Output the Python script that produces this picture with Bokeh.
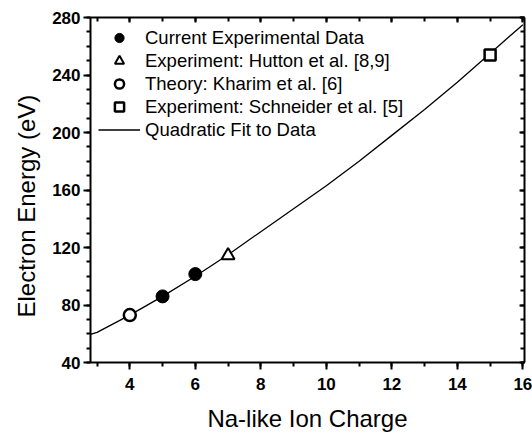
from bokeh.plotting import figure
from bokeh.models import (LinearAxis, SingleIntervalTicker, Legend, LegendItem,
                          Range1d, Title)
from bokeh.embed import file_html
from bokeh.resources import INLINE

# ---- data ----
fit_x = [2.8, 3, 4, 5, 6, 7, 8, 9, 10, 11, 12, 13, 14, 15, 16]
fit_y = [59.5, 61, 73, 86, 100, 115, 131, 147, 163, 180, 198, 216, 235, 255, 275]

current_x = [5, 6]
current_y = [86, 101.5]
hutton_x = [7]
hutton_y = [114.5]
kharim_x = [4]
kharim_y = [73]
schneider_x = [15]
schneider_y = [254]

x_label = "Na-like Ion Charge"
y_label = "Electron Energy (eV)"
legend_labels = ["Current Experimental Data",
                 "Experiment: Hutton et al. [8,9]",
                 "Theory: Kharim et al. [6]",
                 "Experiment: Schneider et al. [5]",
                 "Quadratic Fit to Data"]

FONT = "Liberation Sans"

p = figure(width=532, height=434, output_backend="svg", toolbar_location=None,
           x_range=Range1d(2.8, 16.05), y_range=Range1d(40, 280),
           min_border_left=90, min_border_right=8, min_border_top=17,
           min_border_bottom=68, x_axis_label=x_label)
p.grid.visible = False
p.outline_line_color = None
p.background_fill_color = "white"
p.border_fill_color = "white"

xt = SingleIntervalTicker(interval=2, num_minor_ticks=2)
yt = SingleIntervalTicker(interval=40, num_minor_ticks=4)

xa = p.xaxis[0]
ya = p.yaxis[0]
xa.ticker = xt
ya.ticker = yt
for ax in (xa, ya):
    ax.axis_line_width = 2
    ax.axis_line_color = "black"
    ax.major_tick_line_width = 2
    ax.minor_tick_line_width = 2
    ax.major_tick_in = 0
    ax.minor_tick_in = 0
    ax.major_tick_out = 7
    ax.minor_tick_out = 4
    ax.major_label_text_font = FONT
    ax.major_label_text_font_style = "bold"
    ax.major_label_text_font_size = "17px"
    ax.major_label_text_color = "black"
    ax.axis_label_text_font = FONT
    ax.axis_label_text_font_style = "normal"
    ax.axis_label_text_font_size = "24px"
    ax.axis_label_text_color = "black"
xa.major_label_standoff = 8
xa.axis_label_standoff = 12
ya.major_label_standoff = 3

for side, tk in (("above", xt), ("right", yt)):
    ax = LinearAxis(ticker=tk, major_label_text_font_size="8px",
                    major_label_text_color=None,
                    axis_line_width=2, major_tick_line_width=2,
                    minor_tick_line_width=2, major_tick_in=5, major_tick_out=0,
                    minor_tick_in=4, minor_tick_out=0, major_label_standoff=0)
    p.add_layout(ax, side)

ytitle = Title(text=y_label, align="left", offset=45, text_color="black",
               text_font=FONT, text_font_size="24px", text_font_style="normal",
               standoff=20)
p.add_layout(ytitle, "left")

# ---- glyphs ----
fit = p.line(fit_x, fit_y, line_color="black", line_width=1.3)
cur = p.scatter(current_x, current_y, marker="circle", size=13,
                fill_color="black", line_color="black")
hut = p.scatter(hutton_x, hutton_y, marker="triangle", size=13,
                fill_color="white", line_color="black", line_width=2)
kha = p.scatter(kharim_x, kharim_y, marker="circle", size=12,
                fill_color="white", line_color="black", line_width=2.5)
sch = p.scatter(schneider_x, schneider_y, marker="square", size=11,
                fill_color="white", line_color="black", line_width=2.5)

items = [LegendItem(label=legend_labels[0], renderers=[cur]),
         LegendItem(label=legend_labels[1], renderers=[hut]),
         LegendItem(label=legend_labels[2], renderers=[kha]),
         LegendItem(label=legend_labels[3], renderers=[sch]),
         LegendItem(label=legend_labels[4], renderers=[fit])]
legend = Legend(items=items, location=(8, 221), padding=0, margin=0,
                border_line_color=None, background_fill_alpha=0,
                label_text_font=FONT, label_text_font_size="18.5px",
                label_text_color="black",
                glyph_width=42, glyph_height=23, label_height=23,
                spacing=0, label_standoff=5)
p.add_layout(legend, "center")

open("out.html", "w").write(file_html(p, INLINE))
